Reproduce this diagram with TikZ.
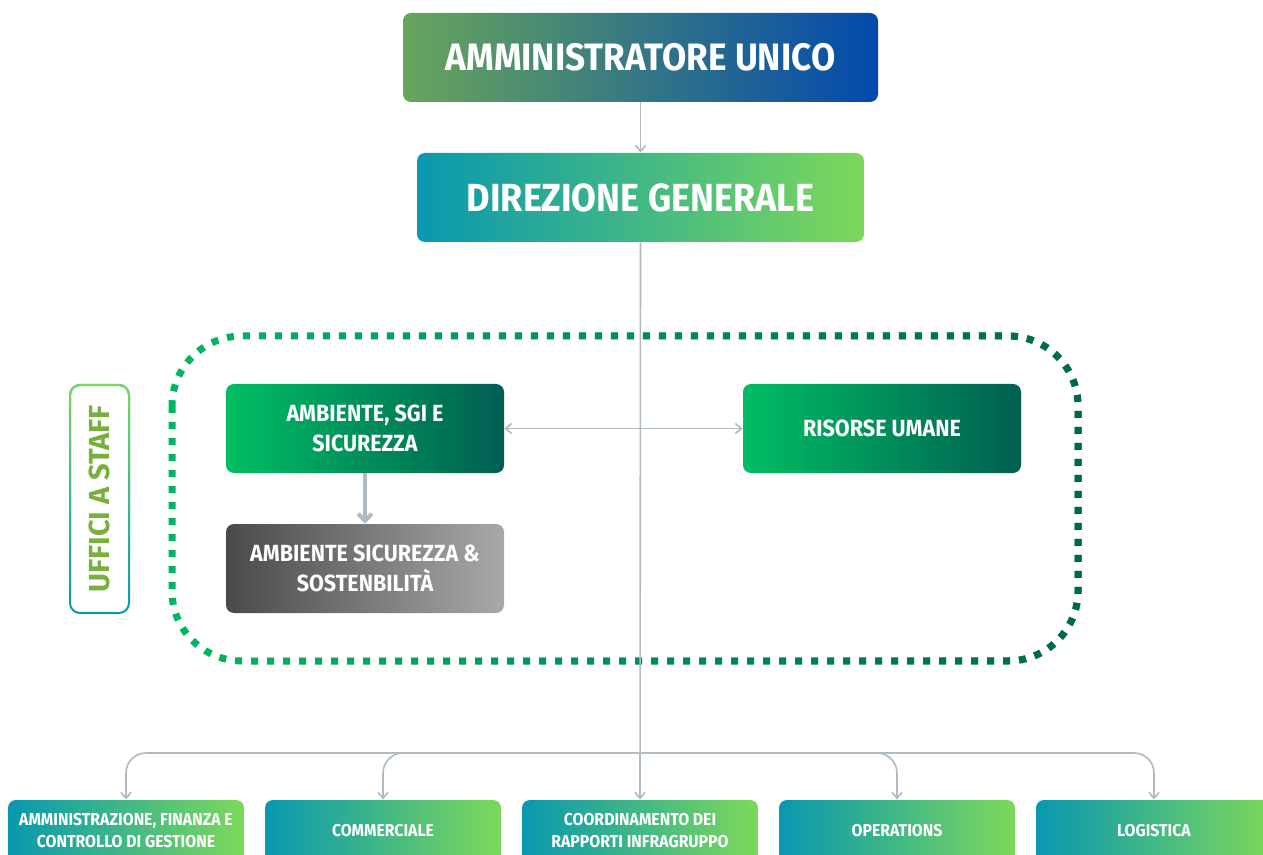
\documentclass[tikz,border=0pt]{standalone}
\usepackage{fontspec}
\setmainfont{Fira Sans}[FakeStretch=0.92]
\newfontfamily\stafffont{Fira Sans}[FakeStretch=1.0]
\usetikzlibrary{arrows.meta,fadings,shapes.misc}
\definecolor{auL}{HTML}{68A55C}
\definecolor{auR}{HTML}{0349AD}
\definecolor{dgL}{HTML}{0898B0}
\definecolor{dgR}{HTML}{7DD85A}
\definecolor{grL}{HTML}{00BE63}
\definecolor{grR}{HTML}{005E52}
\definecolor{gyL}{HTML}{4A4A4A}
\definecolor{gyR}{HTML}{A8A8A8}
\definecolor{conn}{HTML}{B0BAC3}
\definecolor{staffT}{HTML}{79AF3C}
\definecolor{dotL}{HTML}{00B862}
\definecolor{dotR}{HTML}{006652}
\tikzfading[name=fadeRight, left color=transparent!100, right color=transparent!0]
\tikzfading[name=fadeDown, top color=transparent!0, bottom color=transparent!100]
\tikzset{
  box/.style={rounded corners=4pt, inner sep=0pt, align=center, text=white, font=\bfseries},
  topbox/.style={box, minimum width=237.5pt, minimum height=44.5pt, font=\bfseries\fontsize{19.1}{22}\selectfont},
  dgbox/.style={box, left color=dgL, right color=dgR, minimum width=223.5pt, minimum height=44.5pt, font=\bfseries\fontsize{19.6}{23}\selectfont},
  midbox/.style={box, minimum width=139pt, minimum height=44.5pt, font=\bfseries\fontsize{11.7}{15}\selectfont},
  greenbox/.style={midbox, left color=grL, right color=grR},
  graybox/.style={midbox, left color=gyL, right color=gyR},
  botbox/.style={box, left color=dgL, right color=dgR, minimum width=118pt, minimum height=31pt, font=\bfseries\fontsize{8.6}{11}\selectfont},
  cline/.style={draw=conn, line width=0.8pt},
  tip/.style={-{Straight Barb[length=3pt,width=5pt]}},
  dotted box/.style={line width=3.5pt, dash pattern=on 3.5pt off 4.5pt, rounded corners=35pt},
}
\begin{document}
\begin{tikzpicture}[x=0.5pt, y=-0.5pt]
\useasboundingbox (0,0) rectangle (1263,855);
\clip (0,0) rectangle (1263,855);

% dotted staff area (gradient stroke)
\draw[dotted box, draw=dotL] (172,336) rectangle (1078,661);
\draw[dotted box, draw=dotR, path fading=fadeRight] (172,336) rectangle (1078,661);

% staff label
\draw[rounded corners=5pt, line width=1pt, draw=dgL] (70,385) rectangle (129,613);
\draw[rounded corners=5pt, line width=1pt, draw=dgR, path fading=fadeDown] (70,385) rectangle (129,613);
\node[rotate=90, text=staffT, font=\stafffont\bfseries\fontsize{14.5}{16}\selectfont] (staff) at (99.5,499) {UFFICI A STAFF};

% main boxes
\node[topbox, left color=auL, right color=auR] (au) at (640.5,57.5) {AMMINISTRATORE UNICO};
\node[dgbox] (dg) at (640.5,197.5) {DIREZIONE GENERALE};

\node[greenbox] (asgi) at (365,428.5) {AMBIENTE, SGI E\\SICUREZZA};
\node[greenbox] (ru) at (882,428.5) {RISORSE UMANE};
\node[graybox] (ass) at (365,568.5) {AMBIENTE SICUREZZA \&\\SOSTENBILITÀ};

% bottom boxes
\node[botbox] (b1) at (126,831) {AMMINISTRAZIONE, FINANZA E\\CONTROLLO DI GESTIONE};
\node[botbox] (b2) at (383,831) {COMMERCIALE};
\node[botbox] (b3) at (640,831) {COORDINAMENTO DEI\\RAPPORTI INFRAGRUPPO};
\node[botbox] (b4) at (897,831) {OPERATIONS};
\node[botbox] (b5) at (1154,831) {LOGISTICA};

% connectors
\draw[cline, tip] (au.south) -- (dg.north);
\draw[cline, tip] (dg.south) -- (b3.north);
\draw[cline, {Straight Barb[length=3pt,width=5pt]}-{Straight Barb[length=3pt,width=5pt]}] (asgi.east) -- (ru.west);
\draw[draw=conn, line width=2pt, -{Straight Barb[length=3.5pt,width=7pt]}] (asgi.south) -- (ass.north);

\coordinate (bus) at (640,753);
\draw[cline, tip, rounded corners=10pt] (bus) -| (b1.north);
\draw[cline, tip, rounded corners=10pt] (bus) -| (b2.north);
\draw[cline, tip, rounded corners=10pt] (bus) -| (b4.north);
\draw[cline, tip, rounded corners=10pt] (bus) -| (b5.north);
\end{tikzpicture}
\end{document}
